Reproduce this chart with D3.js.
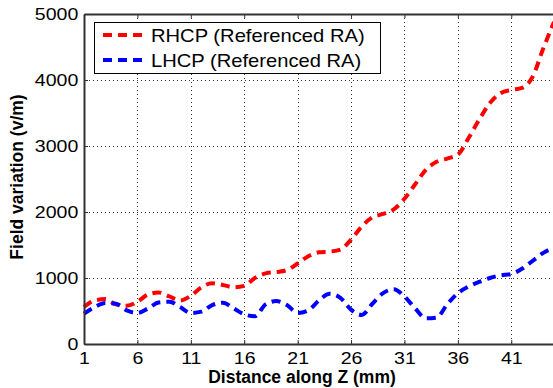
<!DOCTYPE html>
<meta charset="utf-8">
<style>
  html, body { margin: 0; padding: 0; background: #fff; overflow: hidden; }
  svg { display: block; font-family: "Liberation Sans", Arial, sans-serif; }
  .tick text { font-size: 17px; fill: #000; }
  .grid line { stroke: #333; stroke-width: 1px; stroke-dasharray: 1,3; shape-rendering: crispEdges; }
  .grid path { display: none; }
</style>
<svg width="553" height="388"></svg>
<script src="https://d3js.org/d3.v7.min.js"></script>
<script>
var distance = d3.range(1, 46);
var rhcp = [560, 660, 680, 600, 580, 640, 750, 780, 720, 660,
            730, 860, 920, 895, 860, 880, 1000, 1070, 1090, 1120,
            1220, 1330, 1390, 1400, 1430, 1580, 1780, 1920, 1970, 2040,
            2200, 2420, 2640, 2760, 2810, 2870, 3120, 3400, 3650, 3800,
            3850, 3880, 4050, 4480, 4880];
var lhcp = [460, 560, 620, 610, 510, 470, 540, 630, 640, 560,
            470, 490, 590, 625, 540, 450, 420, 600, 650, 590,
            470, 510, 660, 760, 700, 520, 440, 610, 770, 830,
            720, 540, 390, 400, 600, 770, 870, 940, 1000, 1040,
            1060, 1140, 1260, 1380, 1460];
var xTicks = [1, 6, 11, 16, 21, 26, 31, 36, 41];
var yTicks = [0, 1000, 2000, 3000, 4000, 5000];
var seriesNames = ["RHCP (Referenced RA)", "LHCP (Referenced RA)"];
var seriesColors = ["#ff0000", "#0000ff"];

var margin = {top: 14, right: 0, bottom: 44, left: 84},
    width = 554 - margin.left,
    height = 388 - margin.top - margin.bottom;

var svg = d3.select("svg");
var g = svg.append("g")
    .attr("transform", "translate(" + margin.left + "," + margin.top + ")");

var x = d3.scaleLinear().domain([1, 45]).range([0, width]);
var y = d3.scaleLinear().domain([0, 5000]).range([height, 0]);

// grid
g.append("g").attr("class", "grid")
    .call(d3.axisBottom(x).tickValues(xTicks.slice(1)).tickSize(height).tickFormat(""));
g.append("g").attr("class", "grid")
    .attr("transform", "translate(" + width + ",0)")
    .call(d3.axisLeft(y).tickValues(yTicks.slice(1, 5)).tickSize(width).tickFormat(""));

// lines
var line = d3.line()
    .x(function(d, i) { return x(distance[i]); })
    .y(function(d) { return y(d); })
    .curve(d3.curveMonotoneX);

[rhcp, lhcp].forEach(function(s, i) {
  g.append("path")
    .datum(s)
    .attr("fill", "none")
    .attr("stroke", seriesColors[i])
    .attr("stroke-width", 4)
    .attr("stroke-dasharray", "9,6")
    .attr("d", line);
});

// axes
var xAxis = g.append("g")
    .attr("transform", "translate(0," + height + ")")
    .call(d3.axisBottom(x).tickValues(xTicks).tickSizeInner(-4).tickSizeOuter(0).tickPadding(8));
var yAxis = g.append("g")
    .call(d3.axisLeft(y).tickValues(yTicks).tickFormat(d3.format("d"))
      .tickSizeInner(-4).tickSizeOuter(0).tickPadding(5));
g.append("g")
    .call(d3.axisTop(x).tickValues(xTicks).tickSizeInner(-4).tickSizeOuter(0).tickFormat(""));

g.selectAll(".domain").attr("stroke", "#333").attr("stroke-width", 2);
g.selectAll(".tick line").attr("stroke", "#333");
g.selectAll(".tick text").attr("transform", "scale(1.15,1)");

// axis labels
svg.append("text")
    .attr("x", 302).attr("y", 383)
    .attr("text-anchor", "middle")
    .style("font-size", "17.5px").style("font-weight", "bold")
    .text("Distance along Z (mm)");
svg.append("text")
    .attr("transform", "translate(23,177) rotate(-90)")
    .attr("text-anchor", "middle")
    .style("font-size", "17.5px").style("font-weight", "bold")
    .text("Field variation (v/m)");

// legend
var legend = svg.append("g");
legend.append("rect")
    .attr("x", 94.5).attr("y", 22.5).attr("width", 286).attr("height", 51)
    .attr("fill", "#fff").attr("stroke", "#000").attr("stroke-width", 1);
seriesNames.forEach(function(name, i) {
  var ly = 35 + i * 25;
  legend.append("line")
      .attr("x1", 103).attr("x2", 147).attr("y1", ly).attr("y2", ly)
      .attr("stroke", seriesColors[i]).attr("stroke-width", 4)
      .attr("stroke-dasharray", "9,6");
  legend.append("text")
      .attr("transform", "translate(151," + (ly + 6.5) + ") scale(1.12,1)")
      .style("font-size", "18px")
      .text(name);
});
</script>
